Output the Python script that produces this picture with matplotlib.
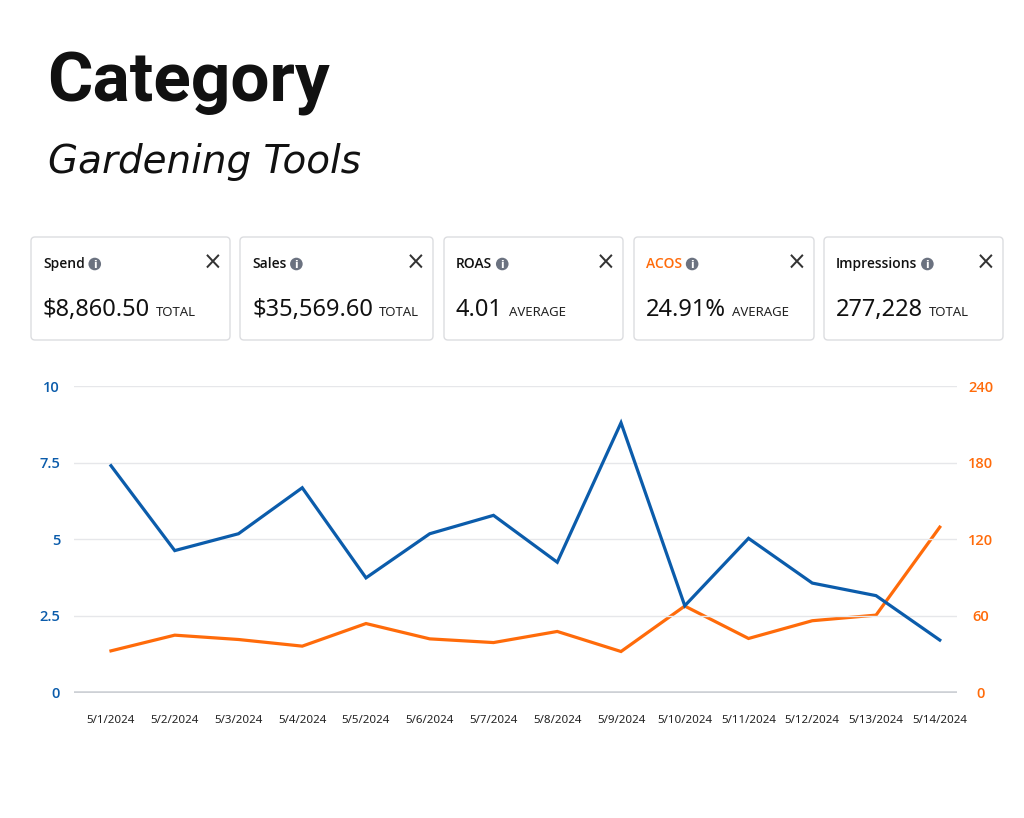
import matplotlib
matplotlib.use("Agg")
import matplotlib.pyplot as plt
from matplotlib.patches import FancyBboxPatch, Circle

# ---------------- data ----------------
dates = ["5/1/2024", "5/2/2024", "5/3/2024", "5/4/2024", "5/5/2024", "5/6/2024", "5/7/2024",
         "5/8/2024", "5/9/2024", "5/10/2024", "5/11/2024", "5/12/2024", "5/13/2024", "5/14/2024"]
blue_values = [7.4, 4.63, 5.18, 6.68, 3.74, 5.18, 5.78, 4.25, 8.8, 2.83, 5.03, 3.57, 3.16, 1.71]
orange_values = [32.6, 44.9, 41.5, 36.3, 54.0, 42.0, 39.1, 47.8, 32.1, 67.7, 42.3, 56.2, 60.6, 129.5]
left_ticks = [0, 2.5, 5, 7.5, 10]
left_tick_labels = ["0", "2.5", "5", "7.5", "10"]
right_ticks = [0, 60, 120, 180, 240]
right_tick_labels = ["0", "60", "120", "180", "240"]

card_titles = ["Spend", "Sales", "ROAS", "ACOS", "Impressions"]
card_values = ["$8,860.50", "$35,569.60", "4.01", "24.91%", "277,228"]
card_kinds = ["TOTAL", "TOTAL", "AVERAGE", "AVERAGE", "TOTAL"]
title_text = "Category"
subtitle_text = "Gardening Tools"

BLUE = "#0B5CAB"
ORANGE = "#FF6B0A"
FONT = "Noto Sans"
BFONT = ["Open Sans", "DejaVu Sans"]

W, H = 1024, 818
fig = plt.figure(figsize=(W / 100, H / 100), dpi=100)
fig.patch.set_facecolor("white")

# background axes in pixel coordinates
bg = fig.add_axes([0, 0, 1, 1])
bg.set_xlim(0, W)
bg.set_ylim(H, 0)
bg.axis("off")

# titles
bg.text(47, 83, title_text, fontsize=50, fontweight="bold", family="Roboto",
        va="center", ha="left", color="#111111")
bg.text(48, 162, subtitle_text, fontsize=28, family="DejaVu Sans", style="oblique",
        va="center", ha="left", color="#111111")

# cards
card_x = [(31, 230), (240, 433), (444, 623), (634, 814), (824, 1003)]
card_top, card_bot = 237, 340
for i, (x0, x1) in enumerate(card_x):
    box = FancyBboxPatch((x0, card_top), x1 - x0, card_bot - card_top,
                         boxstyle="round,pad=0,rounding_size=4",
                         fc="white", ec="#DCDDE0", lw=1.0)
    bg.add_patch(box)
    tcol = ORANGE if card_titles[i] == "ACOS" else "#111111"
    t = bg.text(x0 + 12, 264, card_titles[i], fontsize=10, fontweight="semibold",
                family=BFONT, color=tcol, va="center", ha="left")
    fig.canvas.draw()
    bb = t.get_window_extent()
    cx = bb.x1 + 10
    bg.add_patch(Circle((cx, 264), 6.3, fc="#6B7280", ec="none"))
    bg.text(cx, 264.5, "i", fontsize=7.5, fontweight="bold", color="white",
            family="DejaVu Sans", ha="center", va="center")
    bg.text(x1 - 17, 263, "\u00d7", fontsize=17, color="#333333", family="DejaVu Sans",
            ha="center", va="center")
    v = bg.text(x0 + 12, 310, card_values[i], fontsize=17, family=FONT, color="#111111",
                va="center", ha="left")
    fig.canvas.draw()
    vb = v.get_window_extent()
    bg.text(vb.x1 + 6, 313, card_kinds[i], fontsize=9.5, family=FONT, color="#222222",
            va="center", ha="left")

# chart axes
ax_l, ax_r, ax_t, ax_b = 74, 957, 386, 692.5
ax = fig.add_axes([ax_l / W, (H - ax_b) / H, (ax_r - ax_l) / W, (ax_b - ax_t) / H])
ax.set_facecolor("none")
x = list(range(len(dates)))
ax.set_xlim(-0.58, 13.27)
ax.set_ylim(0, 10)
for s in ax.spines.values():
    s.set_visible(False)
ax.set_yticks(left_ticks)
ax.grid(axis="y", color="#E6E7EA", lw=1.0)
ax.set_axisbelow(True)
ax.axhline(0, color="#CDD0D5", lw=2.6, zorder=1)
ax.set_yticklabels(left_tick_labels, color=BLUE, fontsize=10.5, fontweight="semibold", family=BFONT)
ax.tick_params(axis="y", length=0, pad=10)
ax.set_xticks(x)
ax.set_xticklabels(dates, fontsize=8.3, family=FONT, color="#222222")
ax.tick_params(axis="x", length=0, pad=16)

ax2 = ax.twinx()
ax2.set_ylim(0, 240)
for s in ax2.spines.values():
    s.set_visible(False)
ax2.set_yticks(right_ticks)
ax2.set_yticklabels(right_tick_labels, color=ORANGE, fontsize=10.5, fontweight="semibold", family=BFONT)
for lab in ax2.get_yticklabels():
    lab.set_horizontalalignment("center")
ax2.tick_params(axis="y", length=0, pad=17)

ax2.plot(x, orange_values, color=ORANGE, lw=2.3, solid_joinstyle="miter", zorder=3)
ax.plot(x, blue_values, color=BLUE, lw=2.3, solid_joinstyle="miter", zorder=4)
ax.set_zorder(ax2.get_zorder() + 1)
ax.patch.set_visible(False)

fig.savefig("out.png", dpi=100, facecolor="white")
